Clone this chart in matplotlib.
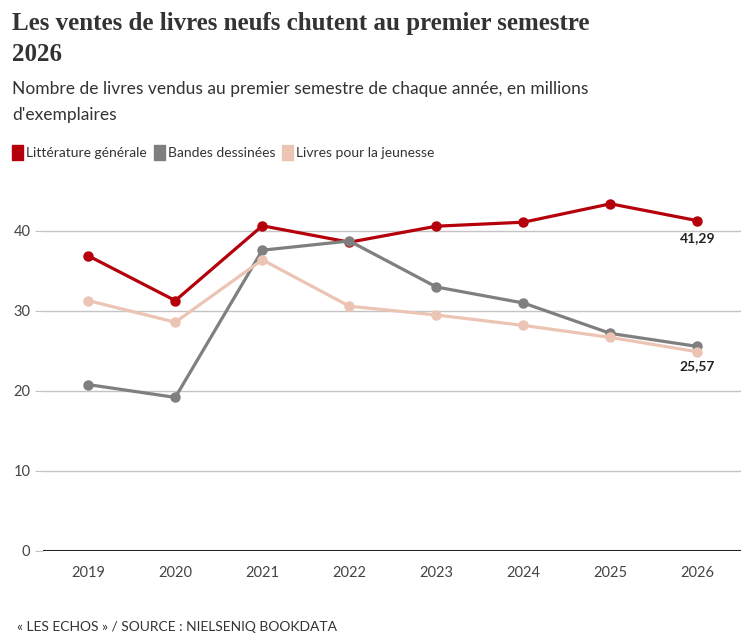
import matplotlib.pyplot as plt
from matplotlib.patches import Rectangle

# données (millions d'exemplaires, premier semestre)
annees = ["2019", "2020", "2021", "2022", "2023", "2024", "2025", "2026"]
litterature = [36.9, 31.3, 40.65, 38.6, 40.6, 41.1, 43.4, 41.29]
bd = [20.8, 19.2, 37.6, 38.75, 33.0, 31.0, 27.2, 25.57]
jeunesse = [31.3, 28.6, 36.4, 30.6, 29.5, 28.2, 26.7, 24.9]
series_noms = ["Littérature générale", "Bandes dessinées", "Livres pour la jeunesse"]
couleurs = ["#b5000b", "#7f7f7f", "#ecc4b4"]
yticks = [0, 10, 20, 30, 40]

SANS = "Lato"

fig = plt.figure(figsize=(7.56, 6.44), dpi=100)
ax = fig.add_axes([43 / 756, 1 - 551 / 644, (741 - 43) / 756, 360 / 644])

x = list(range(len(annees)))
for vals, c in zip([litterature, bd, jeunesse], couleurs):
    ax.plot(x, vals, color=c, lw=2.3, marker="o", ms=6.5, solid_capstyle="round", zorder=3)

# étiquettes de fin
ax.annotate("41,29", (x[-1], litterature[-1]), xytext=(0, -8), textcoords="offset points",
            ha="center", va="top", fontsize=10, fontweight="bold", color="#222222", family=SANS, zorder=5)
ax.annotate("25,57", (x[-1], jeunesse[-1]), xytext=(0, -6), textcoords="offset points",
            ha="center", va="top", fontsize=10, fontweight="bold", color="#222222", family=SANS, zorder=5)

ax.set_xlim(-0.52, 7.5)
ax.set_ylim(0, 45)
ax.set_yticks(yticks)
ax.set_yticklabels([str(v) for v in yticks])
ax.set_xticks(x)
ax.set_xticklabels(annees)
for s in ax.spines.values():
    s.set_visible(False)
ax.grid(axis="y", color="#c4c4c4", lw=1)
ax.axhline(0, color="#222222", lw=2.2, zorder=4)
ax.tick_params(axis="y", length=6, color="#c4c4c4", labelsize=10.5, labelcolor="#444444", pad=3)
ax.tick_params(axis="x", length=0, labelsize=10.5, labelcolor="#444444", pad=11)
for lab in ax.get_xticklabels() + ax.get_yticklabels():
    lab.set_family(SANS)

# titre, sous-titre
fig.text(12 / 756, 1 - 12 / 644, "Les ventes de livres neufs chutent au premier semestre\n2026",
         ha="left", va="top", fontsize=18, fontweight="bold", family="Liberation Serif",
         color="#333333", linespacing=1.45)
fig.text(12 / 756, 1 - 81 / 644,
         "Nombre de livres vendus au premier semestre de chaque année, en millions\nd'exemplaires",
         ha="left", va="top", fontsize=12.5, family=SANS, color="#333333", linespacing=1.75)

# légende
lx = 12
for nom, c in zip(series_noms, couleurs):
    fig.patches.append(Rectangle((lx / 756, 1 - 160 / 644), 11 / 756, 15 / 644,
                                 transform=fig.transFigure, color=c, figure=fig))
    t = fig.text((lx + 14) / 756, 1 - 153 / 644, nom, ha="left", va="center",
                 fontsize=10, family=SANS, color="#333333")
    fig.canvas.draw()
    bb = t.get_window_extent()
    lx = bb.x1 + 7

fig.text(17 / 756, 1 - 627 / 644, "« LES ECHOS » / SOURCE : NIELSENIQ BOOKDATA",
         ha="left", va="center", fontsize=10, family=SANS, color="#333333")

fig.savefig("out.png", dpi=100)
